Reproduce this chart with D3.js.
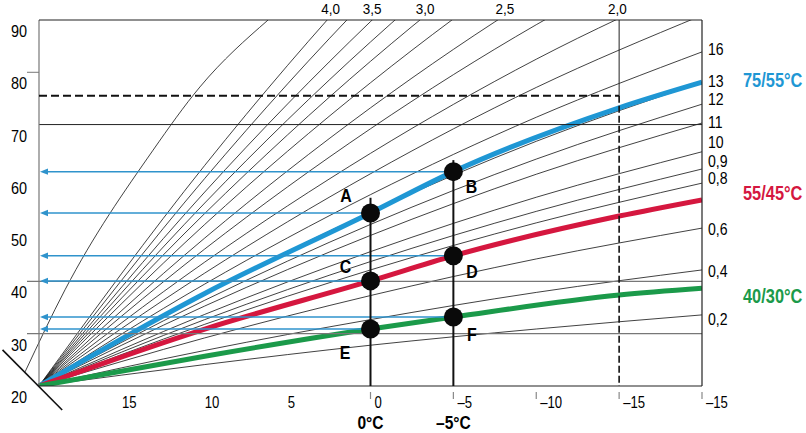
<!DOCTYPE html>
<html>
<head>
<meta charset="utf-8">
<script src="https://cdn.jsdelivr.net/npm/d3@7"></script>
<style>
  body { margin: 0; background: #fff; }
  svg { display: block; font-family: "Liberation Sans Narrow", "Liberation Sans", Arial, sans-serif; }
</style>
</head>
<body>
<svg id="chart" width="806" height="433"></svg>
<script>
// DATA
// outdoor temperature points for the thin heating curves
const outdoorTemps = [20, 10, 0, -10, -20];

// flow temperature of each thin heating curve (slope 0,2 ... 4,0)
const thinCurves = [
  [20, 24.1, 27.8, 30.9, 33.6],   // 0,2
  [20, 26.8, 32.7, 37.9, 42.2],   // 0,4
  [20, 29.2, 37.3, 44.3, 50.2],   // 0,6
  [20, 31.8, 42.2, 51.2, 58.8],   // 0,8
  [20, 32.7, 43.8, 53.4, 61.5],   // 0,9
  [20, 33.7, 45.7, 56.1, 64.8],   // 1,0
  [20, 35.3, 48.8, 60.5, 70.3],   // 1,1
  [20, 36.4, 50.9, 63.4, 73.9],   // 1,2
  [20, 37.7, 53.3, 66.8, 78.1],   // 1,3
  [20, 39.5, 56.6, 71.4, 83.9],   // 1,6
  [20, 41.6, 60.6, 77.1, 90.9],   // 1,8
  [20, 43.7, 64.5, 82.5, 97.6],   // 2,0
  [20, 46.2, 69.2, 89.1, 105.8],  // 2,25
  [20, 48.3, 73.2, 94.7, 112.8],  // 2,5
  [20, 50.9, 78.0, 101.5, 121.2], // 2,75
  [20, 53.0, 82.1, 107.2, 128.3], // 3,0
  [20, 55.0, 85.8, 112.4, 134.8], // 3,25
  [20, 57.1, 89.7, 118.0, 141.7], // 3,5
  [20, 59.7, 94.7, 124.9, 150.3], // 3,75
  [20, 62.2, 99.2, 131.3, 158.3]  // 4,0
];

// steep curve starting on the room temperature axis
const shiftedTemps = [20.84, 18.43, 13.12, 10.29, 6.18];
const shiftedFlows = [22.7, 38.4, 65.1, 77.2, 90];

// room temperature axis (diagonal at the origin)
const roomAxisTemps = [22.2, 18.6];
const roomAxisFlows = [26.9, 15.4];

// the three design curves
const designTemps = [20, 10, 0, -5, -15, -20];
const flow7555 = [20, 37.7, 53.1, 61.0, 73.2, 78.1];
const flow5545 = [20, 30.9, 40.1, 44.9, 52.5, 55.6];
const flow4030 = [20, 25.7, 30.9, 33.2, 37.4, 38.7];
const designNames = ["75/55°C", "55/45°C", "40/30°C"];
const designLabelFlows = [77.2, 55.6, 35.9];
const designColors = ["#1f97d4", "#d5173f", "#1b9a4a"];

// operating points A..F (0 °C and -5 °C on each design curve)
const pointNames = ["A", "B", "C", "D", "E", "F"];
const pointTemps = [0, -5, 0, -5, 0, -5];
const pointFlows = [flow7555[2], flow7555[3], flow5545[2], flow5545[3], flow4030[2], flow4030[3]];
const markerTemps = [0, -5];
const markerTops = [56, 63.2];
const markerNames = ["0°C", "–5°C"];

// design point (dashed)
const designOutdoor = -15;
const designFlow = 75.5;

// ticks
const yTicks = [20, 30, 40, 50, 60, 70, 80, 90];
const xTicks = [15, 10, 5, 0, -5, -10, -15, -20];
const xTickLabels = ["15", "10", "5", "0", "–5", "–10", "–15", "–15"];
const topLabelTemps = [2.4, -0.1, -3.3, -8.1, -14.9];
const topLabels = ["4,0", "3,5", "3,0", "2,5", "2,0"];
const rightLabelFlows = [84.4, 78.4, 74.9, 70.4, 66.6, 63.0, 59.8, 50.0, 42.0, 32.9];
const rightLabels = ["16", "13", "12", "11", "10", "0,9", "0,8", "0,6", "0,4", "0,2"];

// CHART
const svg = d3.select("#chart");

const x = d3.scaleLinear().domain([20, -20]).range([39, 702]);
const y = d3.scaleLinear().domain([20, 90]).range([386, 20]);

// narrow look: move x/y into a transform and squeeze horizontally
function condense(sel, sx) {
  sel.attr("transform", function () {
    const tx = +this.getAttribute("x");
    const ty = +this.getAttribute("y");
    return `translate(${tx},${ty}) scale(${sx},1)`;
  })
  .attr("x", 0)
  .attr("y", 0);
}

svg.append("defs").append("clipPath")
  .attr("id", "plot-clip")
  .append("rect")
  .attr("x", 0).attr("y", y(90))
  .attr("width", x(-20)).attr("height", y(20) - y(90));

const plot = svg.append("g").attr("clip-path", "url(#plot-clip)");

// thin heating curves
const thinLine = d3.line()
  .x((d, i) => x(outdoorTemps[i]))
  .y(d => y(d))
  .curve(d3.curveMonotoneX);

plot.selectAll(".thin")
  .data(thinCurves)
  .enter().append("path")
  .attr("class", "thin")
  .attr("d", thinLine)
  .attr("fill", "none")
  .attr("stroke", "#111")
  .attr("stroke-width", 0.8);

plot.append("path")
  .datum(shiftedFlows)
  .attr("d", d3.line()
    .x((d, i) => x(shiftedTemps[i]))
    .y(d => y(d))
    .curve(d3.curveMonotoneX))
  .attr("fill", "none")
  .attr("stroke", "#111")
  .attr("stroke-width", 0.8);

// grid lines
svg.append("line")
  .attr("x1", 27).attr("x2", x(-20))
  .attr("y1", y(30)).attr("y2", y(30))
  .attr("stroke", "#777").attr("stroke-width", 1.2);
svg.append("line")
  .attr("x1", 27).attr("x2", x(-20))
  .attr("y1", y(40)).attr("y2", y(40))
  .attr("stroke", "#777").attr("stroke-width", 1.2);
svg.append("line")
  .attr("x1", x(20)).attr("x2", x(-20))
  .attr("y1", y(70)).attr("y2", y(70))
  .attr("stroke", "#222").attr("stroke-width", 1);
svg.append("line")
  .attr("x1", 27).attr("x2", x(20))
  .attr("y1", y(80)).attr("y2", y(80))
  .attr("stroke", "#777").attr("stroke-width", 1);

// frame
svg.append("line")
  .attr("x1", x(20)).attr("x2", x(20))
  .attr("y1", y(90)).attr("y2", y(20))
  .attr("stroke", "#777").attr("stroke-width", 1.2);
svg.append("line")
  .attr("x1", x(20)).attr("x2", x(-20))
  .attr("y1", y(90)).attr("y2", y(90))
  .attr("stroke", "#222").attr("stroke-width", 1.2);
svg.append("line")
  .attr("x1", x(-20)).attr("x2", x(-20))
  .attr("y1", y(90)).attr("y2", y(20))
  .attr("stroke", "#222").attr("stroke-width", 1.2);
svg.append("line")
  .attr("x1", x(20)).attr("x2", x(-20))
  .attr("y1", y(20)).attr("y2", y(20))
  .attr("stroke", "#222").attr("stroke-width", 1.2);

// room temperature axis
svg.append("line")
  .attr("x1", x(roomAxisTemps[0])).attr("y1", y(roomAxisFlows[0]))
  .attr("x2", x(roomAxisTemps[1])).attr("y2", y(roomAxisFlows[1]))
  .attr("stroke", "#111").attr("stroke-width", 1.6);

// design point lines
svg.append("line")
  .attr("x1", x(designOutdoor)).attr("x2", x(designOutdoor))
  .attr("y1", y(90)).attr("y2", y(designFlow))
  .attr("stroke", "#222").attr("stroke-width", 1);
svg.append("line")
  .attr("x1", x(designOutdoor)).attr("x2", x(designOutdoor))
  .attr("y1", y(designFlow)).attr("y2", y(20))
  .attr("stroke", "#111").attr("stroke-width", 1.6)
  .attr("stroke-dasharray", "7,3");
svg.append("line")
  .attr("x1", x(20)).attr("x2", x(designOutdoor))
  .attr("y1", y(designFlow)).attr("y2", y(designFlow))
  .attr("stroke", "#111").attr("stroke-width", 2)
  .attr("stroke-dasharray", "8,4");

// design curves
const designSeries = [flow7555, flow5545, flow4030];
const designLine = d3.line()
  .x((d, i) => x(designTemps[i]))
  .y(d => y(d))
  .curve(d3.curveMonotoneX);

plot.selectAll(".design")
  .data(designSeries)
  .enter().append("path")
  .attr("class", "design")
  .attr("d", designLine)
  .attr("fill", "none")
  .attr("stroke", (d, i) => designColors[i])
  .attr("stroke-width", 5);

svg.selectAll(".design-label")
  .data(designNames)
  .enter().append("text")
  .attr("class", "design-label")
  .attr("x", 743)
  .attr("y", (d, i) => y(designLabelFlows[i]))
  .attr("fill", (d, i) => designColors[i])
  .style("font-size", "20px")
  .style("font-weight", "bold")
  .text(d => d)
  .call(condense, 0.82);

// arrows to the flow axis
const arrowColor = "#2f93cc";
pointNames.forEach((name, i) => {
  const py = y(pointFlows[i]);
  svg.append("line")
    .attr("x1", x(pointTemps[i])).attr("x2", x(20) + 4)
    .attr("y1", py).attr("y2", py)
    .attr("stroke", arrowColor).attr("stroke-width", 1.5);
  svg.append("path")
    .attr("d", `M${x(20) + 1},${py} L${x(20) + 9},${py - 3.2} L${x(20) + 9},${py + 3.2} Z`)
    .attr("fill", arrowColor);
});

// marker lines at 0 °C and -5 °C
markerTemps.forEach((t, i) => {
  svg.append("line")
    .attr("x1", x(t)).attr("x2", x(t))
    .attr("y1", y(markerTops[i])).attr("y2", y(20))
    .attr("stroke", "#111").attr("stroke-width", 2);
  svg.append("text")
    .attr("x", x(t))
    .attr("y", 429)
    .attr("text-anchor", "middle")
    .style("font-size", "19px")
    .style("font-weight", "bold")
    .text(markerNames[i])
    .call(condense, 0.82);
});

// points
svg.selectAll(".pt")
  .data(pointNames)
  .enter().append("circle")
  .attr("class", "pt")
  .attr("cx", (d, i) => x(pointTemps[i]))
  .attr("cy", (d, i) => y(pointFlows[i]))
  .attr("r", 9.5)
  .attr("fill", "#0a0a0a");

// letter offsets (layout only)
const letterDx = [-24.5, 18, -25, 18.5, -25.5, 18.5];
const letterDy = [-11, 21, -7.5, 22, 30, 24];
svg.selectAll(".pt-label")
  .data(pointNames)
  .enter().append("text")
  .attr("class", "pt-label")
  .attr("x", (d, i) => x(pointTemps[i]) + letterDx[i])
  .attr("y", (d, i) => y(pointFlows[i]) + letterDy[i])
  .attr("text-anchor", "middle")
  .style("font-size", "18.5px")
  .style("font-weight", "bold")
  .text(d => d)
  .call(condense, 0.86);

// y labels
svg.selectAll(".y-label")
  .data(yTicks)
  .enter().append("text")
  .attr("class", "y-label")
  .attr("x", 27)
  .attr("y", d => y(d) + 17)
  .attr("text-anchor", "end")
  .style("font-size", "17px")
  .text(d => d)
  .call(condense, 0.85);

// x labels
svg.selectAll(".x-label")
  .data(xTicks)
  .enter().append("text")
  .attr("class", "x-label")
  .attr("x", d => d > 0 ? x(d) : x(d) + 4)
  .attr("y", 408)
  .style("font-size", "16px")
  .text((d, i) => xTickLabels[i])
  .call(condense, 0.82);

svg.selectAll(".x-tick")
  .data(xTicks.filter(d => d <= 0))
  .enter().append("line")
  .attr("class", "x-tick")
  .attr("x1", d => x(d)).attr("x2", d => x(d))
  .attr("y1", 392).attr("y2", 399)
  .attr("stroke", "#888").attr("stroke-width", 1.2);

// top labels
svg.selectAll(".top-label")
  .data(topLabels)
  .enter().append("text")
  .attr("class", "top-label")
  .attr("x", (d, i) => x(topLabelTemps[i]))
  .attr("y", 14)
  .attr("text-anchor", "middle")
  .style("font-size", "15px")
  .text(d => d)
  .call(condense, 0.9);

// right labels
svg.selectAll(".right-label")
  .data(rightLabels)
  .enter().append("text")
  .attr("class", "right-label")
  .attr("x", 708)
  .attr("y", (d, i) => y(rightLabelFlows[i]) + 6)
  .style("font-size", "16px")
  .text(d => d)
  .call(condense, 0.88);
</script>
</body>
</html>
